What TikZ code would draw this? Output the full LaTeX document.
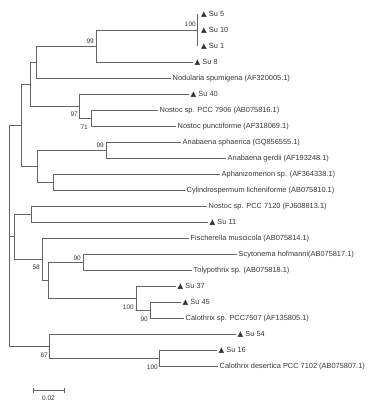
\documentclass[tikz,border=0pt]{standalone}
\usepackage{fontspec}
\setmainfont{Liberation Sans}
\newfontfamily\dejavu{DejaVu Sans}
\definecolor{linec}{RGB}{100,100,100}
\definecolor{textc}{RGB}{55,55,55}
\newcommand{\tri}{{\dejavu ▲}}
\begin{document}
\begin{tikzpicture}[x=1bp,y=-1bp,
  branch/.style={draw=linec,line width=0.6bp},
  leaf/.style={anchor=west,inner xsep=1.5bp,inner ysep=0pt,
    font=\fontsize{7.4bp}{9bp}\selectfont,text=textc,
    text height=5.3bp,text depth=0bp},
  boot/.style={anchor=east,inner sep=0pt,
    font=\fontsize{6.5bp}{8bp}\selectfont,text=textc},
  scalebar/.style={draw=linec,line width=0.6bp}]
\useasboundingbox (0,0) rectangle (369,405);

% leaves
\node[leaf,inner xsep=4bp] (su5)  at (197,14)  {\tri\ Su 5};
\node[leaf,inner xsep=4bp] (su10) at (197,30)  {\tri\ Su 10};
\node[leaf,inner xsep=4bp] (su1)  at (197,46)  {\tri\ Su 1};
\node[leaf] (su8)  at (193,62)  {\tri\ Su 8};
\node[leaf] (nod)  at (171,78)  {Nodularia spumigena (AF320005.1)};
\node[leaf] (su40) at (189,94)  {\tri\ Su 40};
\node[leaf] (n7906) at (158,110) {Nostoc sp. PCC 7906 (AB075816.1)};
\node[leaf] (npun) at (176,126) {Nostoc punctiforme (AF318069.1)};
\node[leaf] (asph) at (181,142) {Anabaena sphaerica (GQ856555.1)};
\node[leaf] (ager) at (226,158) {Anabaena gerdii (AF193248.1)};
\node[leaf] (aphan) at (220,174) {Aphanizomenon sp. (AF364338.1)};
\node[leaf] (cyl)  at (185,190) {Cylindrospermum licheniforme (AB075810.1)};
\node[leaf] (n7120) at (207,206) {Nostoc sp. PCC 7120 (FJ608813.1)};
\node[leaf] (su11) at (208,222) {\tri\ Su 11};
\node[leaf] (fis)  at (189,238) {Fischerella muscicola (AB075814.1)};
\node[leaf] (scy)  at (237,254) {Scytonema hofmanni(AB075817.1)};
\node[leaf] (tol)  at (192,270) {Tolypothrix sp. (AB075818.1)};
\node[leaf] (su37) at (176,286) {\tri\ Su 37};
\node[leaf] (su45) at (181,302) {\tri\ Su 45};
\node[leaf] (cal)  at (184,318) {Calothrix sp. PCC7507 (AF135805.1)};
\node[leaf] (su54) at (236,334) {\tri\ Su 54};
\node[leaf] (su16) at (217,350) {\tri\ Su 16};
\node[leaf] (cdes) at (218,366) {Calothrix desertica PCC 7102 (AB075807.1)};

% internal nodes
\coordinate (T) at (197,30);
\coordinate (A) at (96,46);
\coordinate (B) at (36,62);
\coordinate (E) at (91,118);
\coordinate (D) at (79,106);
\coordinate (C) at (30,84);
\coordinate (I) at (106,150);
\coordinate (J) at (53,182);
\coordinate (H) at (37,166);
\coordinate (F) at (21,125);
\coordinate (L) at (31,214);
\coordinate (O) at (83,262);
\coordinate (Q) at (150,310);
\coordinate (P) at (136,298);
\coordinate (N) at (48,280);
\coordinate (M) at (42,259);
\coordinate (K) at (14,236.5);
\coordinate (S) at (159,358);
\coordinate (R) at (49,346);
\coordinate (root) at (9,236.5);

% branches
\draw[branch] (T) |- (su5.west) (T) |- (su10.west) (T) |- (su1.west);
\draw[branch] (A) |- (T) (A) |- (su8.west);
\draw[branch] (B) |- (A) (B) |- (nod.west);
\draw[branch] (E) |- (n7906.west) (E) |- (npun.west);
\draw[branch] (D) |- (su40.west) (D) |- (E);
\draw[branch] (C) |- (B) (C) |- (D);
\draw[branch] (I) |- (asph.west) (I) |- (ager.west);
\draw[branch] (J) |- (aphan.west) (J) |- (cyl.west);
\draw[branch] (H) |- (I) (H) |- (J);
\draw[branch] (F) |- (C) (F) |- (H);
\draw[branch] (L) |- (n7120.west) (L) |- (su11.west);
\draw[branch] (O) |- (scy.west) (O) |- (tol.west);
\draw[branch] (Q) |- (su45.west) (Q) |- (cal.west);
\draw[branch] (P) |- (su37.west) (P) |- (Q);
\draw[branch] (N) |- (O) (N) |- (P);
\draw[branch] (M) |- (fis.west) (M) |- (N);
\draw[branch] (K) |- (L) (K) |- (M);
\draw[branch] (S) |- (su16.west) (S) |- (cdes.west);
\draw[branch] (R) |- (su54.west) (R) |- (S);
\draw[branch] (root) |- (F) (root) |- (K) (root) |- (R);

% bootstrap values
\node[boot] (bT) at (196,24)  {100};
\node[boot] (bA) at (94,41)   {99};
\node[boot] (bD) at (78,114)  {97};
\node[boot] (bE) at (88,127)  {71};
\node[boot] (bI) at (104,145) {99};
\node[boot] (bO) at (81,258)  {90};
\node[boot] (bM) at (40,267)  {58};
\node[boot] (bP) at (134,307) {100};
\node[boot] (bQ) at (148,319) {90};
\node[boot] (bR) at (48,355)  {87};
\node[boot] (bS) at (158,367) {100};

% scale bar
\coordinate (sb1) at (33,390);
\coordinate (sb2) at (64,390);
\draw[scalebar] (sb1) -- (sb2);
\draw[scalebar] ([yshift=-2.5bp]sb1) -- ([yshift=2.5bp]sb1);
\draw[scalebar] ([yshift=-2.5bp]sb2) -- ([yshift=2.5bp]sb2);
\node[inner sep=0pt,font=\fontsize{6.5bp}{8bp}\selectfont,text=textc] (sbl) at (48.5,398) {0.02};
\end{tikzpicture}
\end{document}
